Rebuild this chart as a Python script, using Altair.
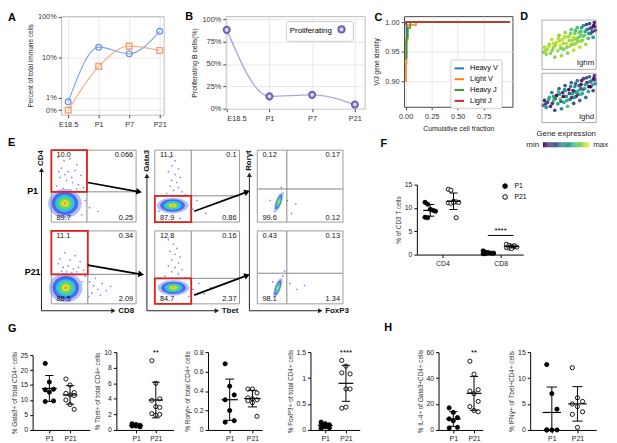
import json
import math
import altair as alt
import pandas as pd

FONT_S = "Liberation Sans"
FONT_A = "Liberation Sans"

# ---------------- data: A / B ----------------
stages = ["E18.5", "P1", "P7", "P21"]
subtypes = ["B cell", "T cell"]
a_bcell = [0.8, 17.8, 12.3, 43.8]
a_tcell = [0.5, 6.0, 18.9, 14.8]
b_prolif = [88.0, 13.8, 15.5, 4.7]

# ---------------- data: C ----------------
c_series = ["Heavy V", "Light V", "Heavy J", "Light J"]
c_hv_x = [0.0, 0.004, 0.008, 1.0]
c_hv_y = [0.935, 0.97, 1.0, 1.0]
c_lv_x = [0.0, 0.003, 0.008, 0.02, 0.1, 1.0]
c_lv_y = [0.90, 0.93, 0.97, 0.995, 1.0, 1.0]
c_hj_x = [0.0, 0.01, 0.02, 0.045, 1.0]
c_hj_y = [0.94, 0.975, 0.99, 1.0, 1.0]
c_lj_x = [0.0, 0.003, 1.0]
c_lj_y = [0.996, 1.0, 1.0]

# ---------------- data: D (UMAP) ----------------
umap_x = [0.08, 0.10, 0.13, 0.15, 0.18, 0.20, 0.22, 0.25, 0.27, 0.30, 0.32, 0.34, 0.36, 0.38, 0.40, 0.42, 0.44,
          0.46, 0.48, 0.50, 0.52, 0.54, 0.56, 0.58, 0.60, 0.62, 0.64, 0.66, 0.68, 0.70, 0.72, 0.74, 0.76, 0.78,
          0.80, 0.82, 0.84, 0.86, 0.88, 0.90, 0.92, 0.94, 0.91, 0.60, 0.45, 0.55, 0.35, 0.70, 0.25, 0.65,
          0.12, 0.17, 0.23, 0.28, 0.33, 0.37, 0.41, 0.43, 0.47, 0.51, 0.53, 0.57, 0.59, 0.61, 0.63, 0.67,
          0.69, 0.71, 0.73, 0.77, 0.79, 0.83, 0.85, 0.89, 0.93]
umap_y = [0.32, 0.42, 0.28, 0.38, 0.48, 0.30, 0.58, 0.42, 0.22, 0.52, 0.35, 0.66, 0.45, 0.25, 0.58, 0.38, 0.72,
          0.50, 0.30, 0.64, 0.44, 0.78, 0.56, 0.36, 0.70, 0.50, 0.82, 0.62, 0.42, 0.74, 0.56, 0.86, 0.66, 0.48,
          0.78, 0.60, 0.90, 0.70, 0.82, 0.62, 0.92, 0.76, 0.86, 0.60, 0.62, 0.48, 0.55, 0.66, 0.50, 0.54,
          0.35, 0.44, 0.36, 0.46, 0.60, 0.40, 0.50, 0.64, 0.42, 0.56, 0.70, 0.62, 0.48, 0.76, 0.58, 0.72,
          0.54, 0.82, 0.64, 0.74, 0.88, 0.70, 0.80, 0.74, 0.84]
expr_ighm = [0.8, 0.85, 0.8, 0.9, 0.85, 0.8, 0.9, 0.85, 0.8, 0.9, 0.85, 0.8, 0.95, 0.85, 0.9, 0.8, 0.85, 0.9,
             0.8, 0.85, 0.9, 0.75, 0.85, 0.9, 0.8, 0.85, 0.7, 0.8, 0.9, 0.7, 0.8, 0.5, 0.75, 0.85, 0.4, 0.7,
             0.2, 0.3, 0.1, 0.5, 0.05, 0.1, 0.0, 0.85, 0.9, 0.8, 0.85, 0.75, 0.9, 0.85,
             0.85, 0.9, 0.8, 0.85, 0.9, 0.8, 0.85, 0.9, 0.8, 0.85, 0.8, 0.9, 0.85, 0.7, 0.8, 0.75,
             0.85, 0.5, 0.8, 0.6, 0.2, 0.5, 0.2, 0.2, 0.05]
expr_ighd = [0.3, 0.1, 0.5, 0.2, 0.6, 0.1, 0.4, 0.7, 0.2, 0.0, 0.55, 0.3, 0.8, 0.4, 0.1, 0.6, 0.2, 0.5, 0.7,
             0.0, 0.45, 0.3, 0.6, 0.2, 0.5, 0.1, 0.4, 0.65, 0.3, 0.0, 0.5, 0.2, 0.6, 0.35, 0.1, 0.55, 0.3, 0.0,
             0.5, 0.2, 0.1, 0.4, 0.0, 0.3, 0.7, 0.1, 0.45, 0.25, 0.6, 0.15,
             0.2, 0.6, 0.1, 0.4, 0.7, 0.3, 0.0, 0.5, 0.6, 0.2, 0.4, 0.1, 0.5, 0.3, 0.6, 0.2,
             0.7, 0.1, 0.4, 0.55, 0.2, 0.0, 0.35, 0.6, 0.1]

# ---------------- data: E (flow) ----------------
q_p1_cd4 = ["10.0", "0.066", "89.7", "0.25"]
q_p21_cd4 = ["11.1", "0.34", "88.5", "2.09"]
q_p1_gt = ["11.1", "0.1", "87.9", "0.86"]
q_p21_gt = ["12.8", "0.16", "84.7", "2.37"]
q_p1_rf = ["0.12", "0.17", "99.6", "0.12"]
q_p21_rf = ["0.43", "0.13", "98.1", "1.34"]

ev_p1_cd4_x = [0.08, 0.15, 0.22, 0.30, 0.12, 0.20, 0.28, 0.35, 0.10, 0.18, 0.25, 0.32, 0.06, 0.14, 0.22, 0.30,
               0.38, 0.16, 0.24, 0.09, 0.40, 0.45, 0.55, 0.36, 0.05, 0.30, 0.02]
ev_p1_cd4_y = [0.90, 0.85, 0.88, 0.80, 0.75, 0.70, 0.72, 0.65, 0.62, 0.58, 0.55, 0.52, 0.50, 0.47, 0.45, 0.46,
               0.48, 0.66, 0.62, 0.70, 0.30, 0.20, 0.15, 0.10, 0.35, 0.38, 0.20]
ev_p21_cd4_x = [0.08, 0.14, 0.20, 0.26, 0.32, 0.38, 0.12, 0.18, 0.24, 0.30, 0.10, 0.22, 0.34, 0.16, 0.28, 0.45,
                0.50, 0.55, 0.48, 0.60, 0.65, 0.52, 0.44, 0.58, 0.70, 0.40, 0.36]
ev_p21_cd4_y = [0.55, 0.50, 0.52, 0.48, 0.50, 0.46, 0.45, 0.44, 0.43, 0.44, 0.62, 0.60, 0.58, 0.70, 0.66, 0.30,
                0.25, 0.20, 0.15, 0.28, 0.18, 0.35, 0.10, 0.12, 0.24, 0.38, 0.30]
ev_p1_gt_x = [0.18, 0.24, 0.20, 0.28, 0.16, 0.24, 0.30, 0.20, 0.26, 0.18, 0.28, 0.22, 0.32, 0.14, 0.36, 0.10,
              0.38, 0.45, 0.50, 0.60, 0.05, 0.30]
ev_p1_gt_y = [0.90, 0.85, 0.78, 0.74, 0.70, 0.66, 0.62, 0.58, 0.55, 0.50, 0.48, 0.44, 0.42, 0.40, 0.38, 0.30,
              0.25, 0.18, 0.30, 0.12, 0.15, 0.05]
ev_p21_gt_x = [0.16, 0.22, 0.26, 0.18, 0.24, 0.30, 0.20, 0.28, 0.16, 0.24, 0.32, 0.20, 0.28, 0.12, 0.36, 0.45,
               0.52, 0.58, 0.66, 0.40, 0.08]
ev_p21_gt_y = [0.88, 0.82, 0.76, 0.72, 0.68, 0.64, 0.60, 0.56, 0.52, 0.50, 0.47, 0.44, 0.41, 0.38, 0.36, 0.20,
               0.28, 0.14, 0.22, 0.10, 0.10]
ev_p1_rf_x = [0.30, 0.20, 0.35, 0.45, 0.28, 0.40, 0.15]
ev_p1_rf_y = [0.40, 0.15, 0.30, 0.25, 0.48, 0.12, 0.30]
ev_p21_rf_x = [0.30, 0.22, 0.38, 0.46, 0.55, 0.32, 0.18]
ev_p21_rf_y = [0.38, 0.12, 0.28, 0.20, 0.25, 0.45, 0.30]

# ---------------- data: F / G / H ----------------
groups = ["P1", "P21"]
f_cats = ["CD4", "CD8"]
f_cd4_p1 = [11.2, 10.8, 9.7, 9.5, 9.3, 8.0, 7.9]
f_cd4_p21 = [14.0, 13.8, 11.4, 11.3, 11.2, 11.1, 11.0, 11.2, 7.9]
f_cd8_p1 = [0.8, 0.5, 0.4, 0.3, 0.3, 0.2, 0.2]
f_cd8_p21 = [2.2, 2.0, 1.8, 1.7, 1.6, 1.5, 1.4, 1.3, 1.9]
f_sig_label = "****"
f_sig_y = 4.1

g_gata3_p1 = [22.2, 16.0, 13.6, 13.4, 12.6, 9.7, 9.5]
g_gata3_p21 = [17.0, 15.0, 12.5, 12.2, 11.7, 11.5, 10.0, 8.5, 6.9]
g_tbet_p1 = [0.8, 0.7, 0.6, 0.5, 0.5, 0.4, 0.6]
g_tbet_p21 = [8.9, 6.0, 4.0, 3.8, 3.0, 2.9, 2.1, 1.9, 2.0]
g_rorgt_p1 = [0.68, 0.45, 0.36, 0.31, 0.20, 0.095, 0.08]
g_rorgt_p21 = [0.42, 0.42, 0.38, 0.33, 0.32, 0.31, 0.30, 0.28, 0.14]
g_foxp3_p1 = [0.15, 0.12, 0.10, 0.09, 0.06, 0.04, 0.03]
g_foxp3_p21 = [1.34, 1.23, 1.08, 1.10, 0.79, 0.79, 0.42, 0.44]
h_il4_p1 = [17.0, 13.5, 9.5, 8.5, 7.0, 2.0, 1.5]
h_il4_p21 = [53.0, 43.0, 31.0, 30.0, 28.0, 22.0, 18.0, 15.0, 14.0]
h_ifng_p1 = [12.6, 7.0, 4.0, 0.0, 0.0, 0.0, 0.0]
h_ifng_p21 = [12.0, 6.2, 5.5, 5.0, 4.5, 3.5, 3.0, 0.5]

# =====================================================================
FRAME = lambda c: alt.ViewBackground(stroke=c, strokeOpacity=1, strokeWidth=1)
INDEP = dict(color="independent", fill="independent", stroke="independent", size="independent",
             shape="independent", opacity="independent")


def box(w, h, texts=()):
    layers = [alt.Chart(pd.DataFrame({"t": [0]})).mark_rect(opacity=0).encode(
        x=alt.value(0), x2=alt.value(w), y=alt.value(0), y2=alt.value(h))]
    for (t, px, py, fs, al) in texts:
        layers.append(
            alt.Chart(pd.DataFrame({"t": [t]})).mark_text(
                fontSize=fs, fontWeight="bold", align=al, baseline="alphabetic", font=FONT_A, color="black"
            ).encode(x=alt.value(px), y=alt.value(py), text="t:N"))
    return alt.layer(*layers).properties(width=w, height=h)


def hrow(*charts):
    return alt.hconcat(*charts, spacing=0, bounds="flush").resolve_scale(**INDEP)


SNS = dict(labelFont=FONT_S, labelFontSize=7.5, labelColor="#333333", titleFont=FONT_S,
           titleFontWeight="normal", titleColor="#222222",
           tickColor="#444444", tickSize=3, domain=False, gridColor="#e2e2e2", gridWidth=0.8)
stage_expr = json.dumps(stages) + "[datum.value]"

# ---------------- A ----------------
A_W, A_H = 104, 100
n = len(stages)
dfA = pd.DataFrame({"idx": list(range(n)) * 2, "pct": a_bcell + a_tcell,
                    "subtype": [subtypes[0]] * n + [subtypes[1]] * n})
colsA = ["#6f98e2", "#f3a073"]
xA = alt.X("idx:Q", scale=alt.Scale(domain=[-0.23, 3.13], nice=False, zero=False),
           axis=alt.Axis(values=list(range(n)), labelExpr=stage_expr, title="", grid=True, labelPadding=3,
                         titleFontSize=7, **SNS))
yA = alt.Y("pct:Q", scale=alt.Scale(type="log", domain=[0.385, 104], nice=False),
           axis=alt.Axis(values=[0.5, 1, 10, 100], labelExpr="datum.value < 0.9 ? '0%' : datum.value + '%'",
                         title="Percent of total immune cells", grid=True, titlePadding=4, titleFontSize=6.6,
                         **SNS))
legA = alt.Legend(title="Cell subtype:", orient="none", legendX=50, legendY=66, fillColor="white",
                  strokeColor="#cccccc", padding=4, cornerRadius=2, titleFont=FONT_S, titleFontSize=7.5,
                  titleFontWeight="normal", labelFont=FONT_S, labelFontSize=7, symbolSize=40,
                  symbolStrokeWidth=1.4, rowPadding=2, titlePadding=3, labelOffset=6)
lineA = alt.Chart(dfA).mark_line(interpolate="monotone", strokeWidth=1.2, opacity=0.85).encode(
    xA, yA, stroke=alt.Stroke("subtype:N", scale=alt.Scale(domain=subtypes, range=colsA), legend=None))
ptsA = alt.Chart(dfA).mark_point(filled=False, size=34, strokeWidth=1.4, opacity=1).encode(
    xA, yA,
    color=alt.Color("subtype:N", scale=alt.Scale(domain=subtypes, range=colsA), legend=legA),
    shape=alt.Shape("subtype:N", scale=alt.Scale(domain=subtypes, range=["circle", "square"]), legend=legA))
chartA = alt.layer(lineA, ptsA).properties(width=A_W, height=A_H, view=FRAME("#bbbbbb"))

# ---------------- B ----------------
B_W, B_H = 141, 94
dfB = pd.DataFrame({"idx": list(range(n)), "pct": b_prolif, "series": ["Proliferating"] * n})
xB = alt.X("idx:Q", scale=alt.Scale(domain=[-0.023, 3.23], nice=False, zero=False),
           axis=alt.Axis(values=list(range(n)), labelExpr=stage_expr, title="", grid=True, labelPadding=3,
                         titleFontSize=7, **SNS))
yB = alt.Y("pct:Q", scale=alt.Scale(domain=[0, 103.3], nice=False, zero=True),
           axis=alt.Axis(values=[0, 25, 50, 75, 100], labelExpr="datum.value + '%'",
                         title="Proliferating B cells(%)", grid=True, titlePadding=4, titleFontSize=7, **SNS))
legB = alt.Legend(title="Proliferating", titleOrient="left", labelExpr="''", orient="none", legendX=61,
                  legendY=5, fillColor="white", strokeColor="#cccccc", padding=4, cornerRadius=2,
                  titleFont=FONT_S, titleFontSize=8, titleFontWeight="normal", titlePadding=5,
                  symbolType="circle", symbolFillColor="#d8d4ef", symbolStrokeWidth=2, symbolSize=40,
                  labelOffset=0, labelFontSize=1)
lineB = alt.Chart(dfB).mark_line(interpolate="monotone", color="#aca8d8", strokeWidth=1.4).encode(xB, yB)
ptsB = alt.Chart(dfB).mark_point(filled=True, fill="#d8d4ef", size=38, strokeWidth=2, opacity=1).encode(
    xB, yB, stroke=alt.Stroke("series:N", scale=alt.Scale(range=["#6a61b2"]), legend=legB))
chartB = alt.layer(lineB, ptsB).properties(width=B_W, height=B_H, view=FRAME("#bbbbbb"))

# ---------------- C ----------------
C_W, C_H = 110, 92
rowsC = []
for name, xs, ys in zip(c_series, [c_hv_x, c_lv_x, c_hj_x, c_lj_x], [c_hv_y, c_lv_y, c_hj_y, c_lj_y]):
    rowsC += [{"series": name, "frac": a, "ident": b} for a, b in zip(xs, ys)]
dfC = pd.DataFrame(rowsC)
xC = alt.X("frac:Q", scale=alt.Scale(domain=[-0.015, 1.025], nice=False, zero=False),
           axis=alt.Axis(values=[0, 0.25, 0.5, 0.75], format=".2f", title="Cumulative cell fraction",
                         grid=True, titlePadding=5, labelPadding=3, titleFontSize=7, **SNS))
yC = alt.Y("ident:Q", scale=alt.Scale(domain=[0.857, 1.01], nice=False, zero=False),
           axis=alt.Axis(values=[0.9, 0.95, 1.0], format=".2f", title="V/J gene identity", grid=True,
                         titlePadding=5, titleFontSize=6.5, **SNS))
legC = alt.Legend(title="", orient="none", legendX=47, legendY=44, fillColor="white", strokeColor="#cccccc",
                  padding=3, cornerRadius=2, symbolType="stroke", symbolStrokeWidth=2, symbolSize=90,
                  labelFont=FONT_S, labelFontSize=7.5, rowPadding=1, labelOffset=5)
chartC = alt.Chart(dfC).mark_line(interpolate="step-after", strokeWidth=1.6).encode(
    xC, yC, color=alt.Color("series:N", scale=alt.Scale(domain=c_series,
                                                        range=["#1f77b4", "#ff7f0e", "#2ca02c", "#d62728"]),
                            legend=legC)
).properties(width=C_W, height=C_H, view=FRAME("#444444"))

# ---------------- D ----------------
D_W, D_H = 55, 135
dfU = pd.DataFrame({"ux": umap_x, "uy": umap_y, "Ighm": expr_ighm, "Ighd": expr_ighd})
UX = [0.06, 0.95]
UY = [-0.03, 0.97]
vir = alt.Scale(scheme="viridis", domain=[0, 1])


def umap_layer(gene, top, bottom):
    sx = alt.Scale(domain=UX, nice=False, zero=False, range=[0, D_W])
    sy = alt.Scale(domain=UY, nice=False, zero=False, range=[bottom, top])
    pts = alt.Chart(dfU).mark_circle(size=14, opacity=0.95).encode(
        x=alt.X("ux:Q", scale=sx, axis=None), y=alt.Y("uy:Q", scale=sy, axis=None),
        color=alt.Color(f"{gene}:Q", scale=vir, legend=None))
    fr = pd.DataFrame({"x0": [UX[0]], "x1": [UX[1]], "y0": [UY[0]], "y1": [UY[1]], "g": [gene]})
    frame = alt.Chart(fr).mark_rect(fillOpacity=0, stroke="#aaaaaa", strokeWidth=1).encode(
        x=alt.X("x0:Q", scale=sx, axis=None), x2="x1:Q", y=alt.Y("y0:Q", scale=sy, axis=None), y2="y1:Q")
    lab = alt.Chart(fr).mark_text(align="right", baseline="bottom", dx=-2, dy=-2, fontSize=8, font=FONT_S,
                                  color="#222222").encode(
        x=alt.X("x1:Q", scale=sx, axis=None), y=alt.Y("y0:Q", scale=sy, axis=None), text="g:N")
    return alt.layer(pts, frame, lab)


cbx = alt.Scale(domain=[0, 1], nice=False, zero=False, range=[1, 48])
cby = alt.Scale(domain=[0, 1], nice=False, zero=False, range=[133, 128])
cb_rect = alt.Chart(alt.sequence(0, 1, 0.02, as_="v")).transform_calculate(
    v2="datum.v + 0.021", y0="0", y1="1").mark_rect().encode(
    x=alt.X("v:Q", scale=cbx, axis=None), x2="v2:Q", y=alt.Y("y0:Q", scale=cby, axis=None), y2="y1:Q",
    color=alt.Color("v:Q", scale=vir, legend=None))


def cb_text(t, x, y, align, dx, dy, baseline):
    return alt.Chart(pd.DataFrame({"t": [t], "x": [x], "y": [y]})).mark_text(
        align=align, baseline=baseline, dx=dx, dy=dy, fontSize=8, font=FONT_S, color="#222222").encode(
        x=alt.X("x:Q", scale=cbx, axis=None), y=alt.Y("y:Q", scale=cby, axis=None), text="t:N")


cbar = alt.layer(cb_rect, cb_text("min", 0, 0.5, "right", -4, 0, "middle"),
                 cb_text("max", 1, 0.5, "left", 4, 0, "middle"),
                 cb_text("Gene expression", 0.5, 1, "center", 0, -4, "bottom"))
chartD = alt.layer(umap_layer("Ighm", 4, 54), umap_layer("Ighd", 58, 108), cbar).resolve_scale(
    x="independent", y="independent").properties(width=D_W, height=D_H)

# ---------------- E (flow columns) ----------------
LEVEL_COLORS = ["#aebcf7", "#4365ef", "#2ac8e6", "#6fd94c", "#e6e23c", "#f08a2a"]
SHAPE_ROUND = "M-1,0A1,0.88,0,1,1,1,0A1,0.88,0,1,1,-1,0Z"
SHAPE_FLAT = "M-1,0A1,0.5,0,1,1,1,0A1,0.5,0,1,1,-1,0Z"
SHAPE_TILT = "M-0.342,0.94A1,0.3,-70,1,1,0.342,-0.94A1,0.3,-70,1,1,-0.342,0.94Z"
E_TOP = (0, 73)
E_BOT = (82, 156)
AXY = 163


def flow_layers(w, yr, gx, gy, gate, nums, evx, evy, cx, cy, shape, diams, arrow=None):
    ytop, ybot = yr
    h = ybot - ytop
    sx = alt.Scale(domain=[0, 1], nice=False, zero=False, range=[0, w])
    sy = alt.Scale(domain=[0, 1], nice=False, zero=False, range=[ybot, ytop])
    X = lambda f: alt.X(f, scale=sx, axis=None)
    Y = lambda f: alt.Y(f, scale=sy, axis=None)
    frame = alt.Chart(pd.DataFrame({"x": [0.0], "x2": [1.0], "y": [0.0], "y2": [1.0]})).mark_rect(
        fillOpacity=0, stroke="#9a9a9a", strokeWidth=1).encode(X("x:Q"), Y("y:Q"), x2="x2:Q", y2="y2:Q")
    ev = alt.Chart(pd.DataFrame({"x": evx, "y": evy})).mark_circle(size=3, color="#4f63ee", opacity=0.75).encode(
        X("x:Q"), Y("y:Q"))
    lev = pd.DataFrame({"k": list(range(len(diams))), "x": [cx] * len(diams), "y": [cy] * len(diams),
                        "s": [d * d for d in diams], "c": LEVEL_COLORS[:len(diams)]})
    blob = alt.Chart(lev).mark_point(filled=True, shape=shape, opacity=0.95, strokeWidth=0).encode(
        X("x:Q"), Y("y:Q"), size=alt.Size("s:Q", scale=None), color=alt.Color("c:N", scale=None),
        order=alt.Order("k:Q"))
    q = pd.DataFrame({"gx": [gx], "gy": [gy], "z": [0.0], "o": [1.0]})
    vline = alt.Chart(q).mark_rule(color="#666666", strokeWidth=0.8).encode(X("gx:Q"), Y("z:Q"), y2="o:Q")
    hline = alt.Chart(q).mark_rule(color="#666666", strokeWidth=0.8).encode(X("z:Q"), Y("gy:Q"), x2="o:Q")
    layers = [ev, blob, vline, hline, frame]
    if gate:
        g = {"x": 0.0, "x2": gx, "y": gy, "y2": 1.0} if gate == "TL" else {"x": 0.0, "x2": gx, "y": 0.0, "y2": gy}
        layers.append(alt.Chart(pd.DataFrame([g])).mark_rect(fillOpacity=0, stroke="#e0201c", strokeWidth=1.8).encode(
            X("x:Q"), Y("y:Q"), x2="x2:Q", y2="y2:Q"))
    tl = pd.DataFrame({"t": [nums[0], nums[2]], "x": [0.06, 0.06], "y": [0.93, 0.06]})
    tr = pd.DataFrame({"t": [nums[1], nums[3]], "x": [0.965, 0.965], "y": [0.93, 0.06]})
    for dfn, al in ((tl, "left"), (tr, "right")):
        layers.append(alt.Chart(dfn).mark_text(align=al, baseline="middle", fontSize=7.5, font=FONT_A,
                                               color="#111111").encode(X("x:Q"), Y("y:Q"), text="t:N"))
    if arrow:
        x1, y1, x2, y2 = arrow
        ang = math.degrees(math.atan2(-(y2 - y1) * h, (x2 - x1) * w)) % 360
        ad = pd.DataFrame({"x": [x1], "y": [y1], "x2": [x2], "y2": [y2]})
        layers.append(alt.Chart(ad).mark_rule(color="black", strokeWidth=1.7).encode(
            X("x:Q"), Y("y:Q"), x2="x2:Q", y2="y2:Q"))
        layers.append(alt.Chart(ad).mark_point(shape="triangle-right", filled=True, color="black", size=45,
                                               angle=ang, opacity=1).encode(X("x2:Q"), Y("y2:Q")))
    return alt.layer(*layers)


def flow_decor(w, ao, ay, yt, xt):
    base = alt.Chart(pd.DataFrame({"yt": [yt], "xt": [xt]}))
    ink = "#222222"
    return [
        base.mark_rule(color=ink, strokeWidth=1).encode(x=alt.value(-ao), y=alt.value(ay), y2=alt.value(AXY)),
        base.mark_rule(color=ink, strokeWidth=1).encode(x=alt.value(-ao), x2=alt.value(w - 24), y=alt.value(AXY)),
        base.mark_point(shape="triangle-up", filled=True, color=ink, size=26, opacity=1).encode(
            x=alt.value(-ao), y=alt.value(ay - 1)),
        base.mark_point(shape="triangle-right", filled=True, color=ink, size=26, opacity=1).encode(
            x=alt.value(w - 23), y=alt.value(AXY)),
        base.mark_text(angle=270, align="left", baseline="middle", font=FONT_A, fontSize=8, fontWeight="bold",
                       color="#111111").encode(x=alt.value(-ao), y=alt.value(ay - 5), text="yt:N"),
        base.mark_text(align="left", baseline="middle", font=FONT_A, fontSize=8, fontWeight="bold",
                       color="#111111").encode(x=alt.value(w - 18), y=alt.value(AXY), text="xt:N"),
    ]


def flow_column(w, top, bot, ao, ay, yt, xt):
    return alt.layer(flow_layers(w, E_TOP, **top), flow_layers(w, E_BOT, **bot),
                     *flow_decor(w, ao, ay, yt, xt)).resolve_scale(y="independent").properties(
        width=w, height=E_BOT[1])


D1 = [34, 27, 20, 14, 8, 3]
D2 = [32, 25, 18, 12, 7, 3]
D3 = [21, 16, 12, 8, 4]
col1 = flow_column(
    86,
    dict(gx=0.42, gy=0.42, gate="TL", nums=q_p1_cd4, evx=ev_p1_cd4_x, evy=ev_p1_cd4_y, cx=0.16, cy=0.26,
         shape=SHAPE_ROUND, diams=D1, arrow=(0.43, 0.55, 1.035, 0.42)),
    dict(gx=0.43, gy=0.405, gate="TL", nums=q_p21_cd4, evx=ev_p21_cd4_x, evy=ev_p21_cd4_y, cx=0.17, cy=0.22,
         shape=SHAPE_ROUND, diams=D1, arrow=(0.43, 0.53, 1.06, 0.405)),
    10, 21, "CD4", "CD8")
col2 = flow_column(
    86,
    dict(gx=0.43, gy=0.365, gate="BL", nums=q_p1_gt, evx=ev_p1_gt_x, evy=ev_p1_gt_y, cx=0.21, cy=0.23,
         shape=SHAPE_FLAT, diams=D2, arrow=(0.465, 0.15, 1.09, 0.42)),
    dict(gx=0.43, gy=0.35, gate="BL", nums=q_p21_gt, evx=ev_p21_gt_x, evy=ev_p21_gt_y, cx=0.22, cy=0.22,
         shape=SHAPE_FLAT, diams=D2, arrow=(0.465, 0.12, 1.09, 0.39)),
    8, 27, "Gata3", "Tbet")
col3 = flow_column(
    87,
    dict(gx=0.345, gy=0.46, gate="", nums=q_p1_rf, evx=ev_p1_rf_x, evy=ev_p1_rf_y, cx=0.25, cy=0.28,
         shape=SHAPE_TILT, diams=D3),
    dict(gx=0.345, gy=0.42, gate="", nums=q_p21_rf, evx=ev_p21_rf_x, evy=ev_p21_rf_y, cx=0.24, cy=0.22,
         shape=SHAPE_TILT, diams=D3),
    8, 26, "Ror\u03B3t", "FoxP3")

# ---------------- F / G / H ----------------
GP = dict(grid=False, domainColor="black", domainWidth=1, tickColor="black", tickSize=3, tickWidth=1,
          labelFont=FONT_A, labelFontSize=7, labelColor="#222222", titleFont=FONT_A, titleFontSize=6.5,
          titleFontWeight="normal", titleColor="#333333", labelPadding=2, titlePadding=3)
fill_scale = alt.Scale(domain=groups, range=["black", "white"])
group_expr = json.dumps(groups) + "[datum.value]"


def stat_layers(df, key, xs, xax, ys, yax, mw, cw):
    base = alt.Chart(df).transform_aggregate(m="mean(v)", sd="stdev(v)", groupby=[key]).transform_calculate(
        lo="max(0, datum.m - datum.sd)", hi="datum.m + datum.sd",
        ma=f"datum.{key} - {mw}", mb=f"datum.{key} + {mw}", ca=f"datum.{key} - {cw}", cb=f"datum.{key} + {cw}")
    X = lambda f: alt.X(f, scale=xs, axis=xax)
    Y = lambda f: alt.Y(f, scale=ys, axis=yax)
    return [
        base.mark_rule(color="black", strokeWidth=1).encode(X(f"{key}:Q"), Y("lo:Q"), y2="hi:Q"),
        base.mark_rule(color="black", strokeWidth=1.2).encode(X("ma:Q"), Y("m:Q"), x2="mb:Q"),
        base.mark_rule(color="black", strokeWidth=1).encode(X("ca:Q"), Y("hi:Q"), x2="cb:Q"),
        base.mark_rule(color="black", strokeWidth=1).encode(X("ca:Q"), Y("lo:Q"), x2="cb:Q"),
    ]


# F
F_W, F_H = 108, 106
f_off = [-0.21, 0.19]
rowsF = []
for ci, (p1v, p21v) in enumerate(zip([f_cd4_p1, f_cd8_p1], [f_cd4_p21, f_cd8_p21])):
    for gi, vals in enumerate([p1v, p21v]):
        for k, v in enumerate(vals):
            rowsF.append({"g": groups[gi], "c": ci + f_off[gi],
                          "pos": ci + f_off[gi] + ((k % 5) - 2) * 0.045, "v": v})
dfF = pd.DataFrame(rowsF)
xsF = alt.Scale(domain=[-0.44, 1.39], nice=False, zero=False)
ysF = alt.Scale(domain=[0, 15], nice=False, zero=True, range=[106, 35])
xaxF = alt.Axis(values=[0, 1], labelExpr=json.dumps(f_cats) + "[datum.value]", title="", **GP)
yaxF = alt.Axis(values=[0, 5, 10, 15], title="% of CD3 T cells", **GP)
legF = alt.Legend(title="", orient="none", legendX=86, legendY=33, labelFont=FONT_A, labelFontSize=7,
                  symbolSize=22, symbolStrokeColor="black", symbolStrokeWidth=1, rowPadding=2, labelOffset=6)
ptsF = alt.Chart(dfF).mark_circle(size=18, stroke="black", strokeWidth=0.9, opacity=1).encode(
    x=alt.X("pos:Q", scale=xsF, axis=xaxF), y=alt.Y("v:Q", scale=ysF, axis=yaxF),
    fill=alt.Fill("g:N", scale=fill_scale, legend=legF))
sigF = pd.DataFrame({"x": [1 - 0.22], "x2": [1 + 0.22], "xc": [1.0], "y": [f_sig_y], "t": [f_sig_label]})
sigF_rule = alt.Chart(sigF).mark_rule(color="black", strokeWidth=1).encode(
    x=alt.X("x:Q", scale=xsF, axis=xaxF), x2="x2:Q", y=alt.Y("y:Q", scale=ysF, axis=yaxF))
sigF_text = alt.Chart(sigF).mark_text(baseline="bottom", dy=-1, fontSize=8, font=FONT_A).encode(
    x=alt.X("xc:Q", scale=xsF, axis=xaxF), y=alt.Y("y:Q", scale=ysF, axis=yaxF), text="t:N")
chartF = alt.layer(ptsF, *stat_layers(dfF, "c", xsF, xaxF, ysF, yaxF, 0.12, 0.07), sigF_rule, sigF_text).properties(
    width=F_W, height=F_H)

ROW3_H = 83


def gp_panel(p1, p21, w, top, ymax, ticks, ytitle, f1, f2, sig=""):
    n1, n2 = len(p1), len(p21)
    df = pd.DataFrame({"v": p1 + p21, "g": [groups[0]] * n1 + [groups[1]] * n2, "gi": [0] * n1 + [1] * n2})
    df["pos"] = df["gi"] + (df.groupby("gi").cumcount() % 3 - 1) * 0.2
    span = 1.0 / (f2 - f1)
    lo = -f1 * span
    xs = alt.Scale(domain=[lo, lo + span], nice=False, zero=False)
    ys = alt.Scale(domain=[0, ymax], nice=False, zero=True, range=[ROW3_H, top])
    xax = alt.Axis(values=[0, 1], labelExpr=group_expr, title="", **GP)
    yax = alt.Axis(values=ticks, labelExpr="format(datum.value, '~g')", title=ytitle, **GP)
    pts = alt.Chart(df).mark_circle(size=18, stroke="black", strokeWidth=0.9, opacity=1).encode(
        x=alt.X("pos:Q", scale=xs, axis=xax), y=alt.Y("v:Q", scale=ys, axis=yax),
        fill=alt.Fill("g:N", scale=fill_scale, legend=None))
    layers = [pts] + stat_layers(df, "gi", xs, xax, ys, yax, 0.36, 0.2)
    if sig:
        layers.append(alt.Chart(pd.DataFrame({"x": [1.0], "y": [ymax], "t": [sig]})).mark_text(
            baseline="middle", dy=1, fontSize=8, font=FONT_A).encode(
            x=alt.X("x:Q", scale=xs, axis=xax), y=alt.Y("y:Q", scale=ys, axis=yax), text="t:N"))
    return alt.layer(*layers).properties(width=w, height=ROW3_H)


g1 = gp_panel(g_gata3_p1, g_gata3_p21, 58, 7, 25, [0, 5, 10, 15, 20, 25], "% Gata3+ of total CD4+ cells", 0.293, 0.655)
g2 = gp_panel(g_tbet_p1, g_tbet_p21, 58, 4, 10, [0, 2, 4, 6, 8, 10], "% Tbet+ of total CD4+ cells", 0.345, 0.69, "**")
g3 = gp_panel(g_rorgt_p1, g_rorgt_p21, 55, 4, 0.8, [0, 0.2, 0.4, 0.6, 0.8], "% Ror\u03B3t+ of total CD4+ cells", 0.40, 0.82)
g4 = gp_panel(g_foxp3_p1, g_foxp3_p21, 50, 4, 1.5, [0, 0.5, 1, 1.5], "% FoxP3+ of total CD4+ cells", 0.30, 0.72, "****")
h1 = gp_panel(h_il4_p1, h_il4_p21, 45, 4, 60, [0, 20, 40, 60], "% IL-4+ of Gata3+CD4+ cells", 0.333, 0.80, "**")
h2 = gp_panel(h_ifng_p1, h_ifng_p21, 67, 4, 15, [0, 5, 10, 15], "% IFN\u03B3+ of Tbet+CD4+ cells", 0.328, 0.716)

# ---------------- layout ----------------
row1 = hrow(box(54, 1, [("A", 0, 5, 11, "left"), ("E", 0, 132, 11, "left")]), chartA,
            box(63, 1, [("B", 22, 4, 11, "left")]), chartB,
            box(40, 1, [("C", 10, 5, 11, "left"), ("F", 16, 133, 11, "left")]), chartC,
            box(30, 1, [("D", 8, 4, 11, "left")]), chartD)
row2 = hrow(box(44, 1, [("P1", 25, 45, 9, "center"), ("P21", 25, 127, 9, "center"), ("G", 0, 185, 11, "left")]),
            col1, box(19, 1), col2, box(18, 1), col3, box(75, 1, [("H", 42, 184, 11, "left")]), chartF)
row3 = hrow(box(25, 1), g1, box(27, 1), g2, box(35, 1), g3, box(49, 1), g4, box(80, 1), h1, box(48, 1), h2)

chart = alt.vconcat(row1, row2, box(1, 14), row3, spacing=0).resolve_scale(**INDEP).properties(
    padding={"left": 0, "top": 0, "right": 0, "bottom": 0}).configure_view(strokeOpacity=0)

chart.save("out.html", embed_options={"renderer": "svg", "actions": False})
